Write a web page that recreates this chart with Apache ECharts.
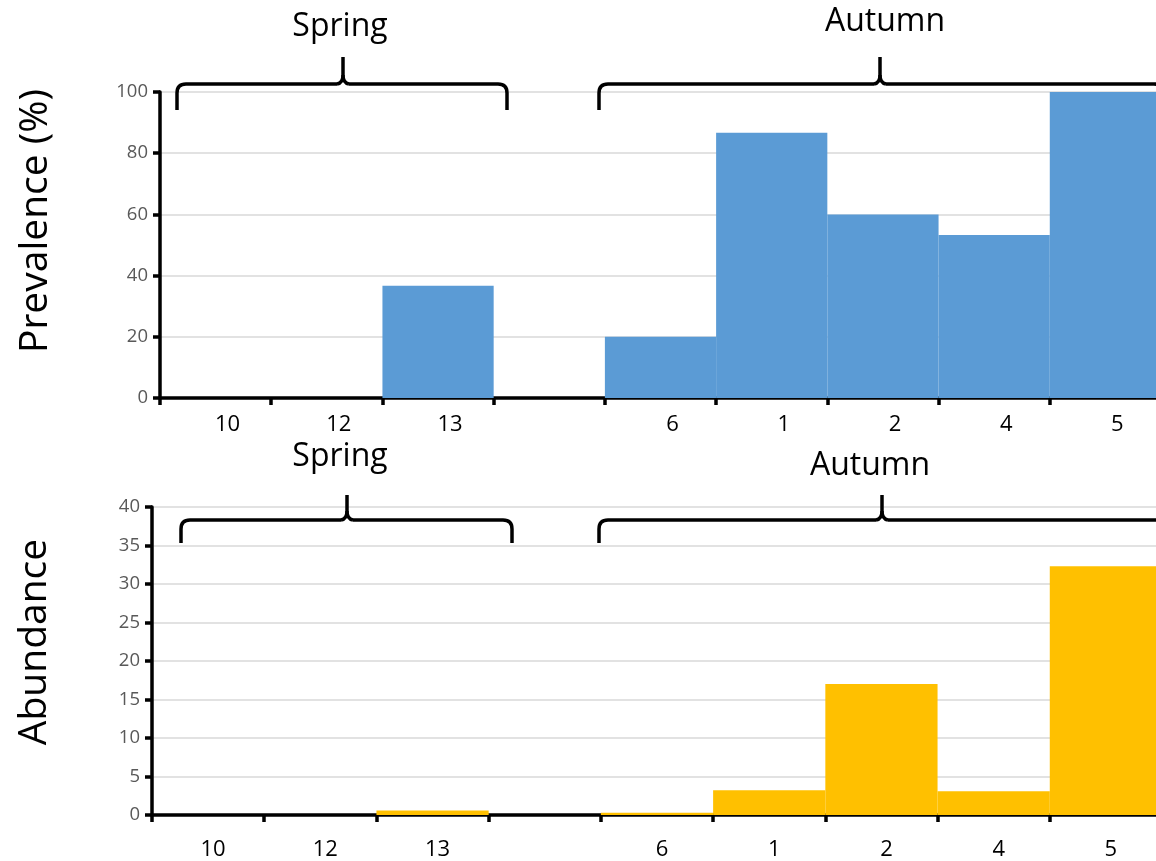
<!DOCTYPE html>
<html>
<head>
<meta charset="utf-8">
<script src="https://cdn.jsdelivr.net/npm/echarts@6/dist/echarts.min.js"></script>
<style>html,body{margin:0;padding:0;background:#fff}#c{width:1156px;height:861px}</style>
</head>
<body>
<div id="c"></div>
<script>
const categories = ['10', '12', '13', '', '6', '1', '2', '4', '5'];
const prevalence = [0, 0, 36.7, null, 20, 86.7, 60, 53.3, 100];
const abundance = [0, 0, 0.6, null, 0.3, 3.2, 17, 3.1, 32.3];
const prevTicks = { min: 0, max: 100, interval: 20 };
const abunTicks = { min: 0, max: 40, interval: 5 };
const groupLabels = ['Spring', 'Autumn'];

const FONT = 'Open Sans';
const chart = echarts.init(document.getElementById('c'));

const ST = { stroke: '#000', lineWidth: 3.5, fill: null };
function ln(a, b, c, d) { return { type: 'line', shape: { x1: a, y1: b, x2: c, y2: d }, style: ST, z: 100 }; }
function bz(a, b, c, d, cx, cy) { return { type: 'bezierCurve', shape: { x1: a, y1: b, x2: c, y2: d, cpx1: cx, cpy1: cy }, style: ST, z: 100 }; }
function brace(x1, x2, xm, yt, yb, ytop) {
  return { type: 'group', children: [
    ln(x1, yb, x1, yt + 9),
    bz(x1, yt + 9, x1 + 9, yt, x1, yt),
    ln(x1 + 9, yt, xm - 6, yt),
    bz(xm - 6, yt, xm, yt - 9, xm, yt - 1),
    ln(xm, yt - 9, xm, ytop),
    bz(xm, yt - 9, xm + 6, yt, xm, yt - 1),
    ln(xm + 6, yt, x2 - 9, yt),
    bz(x2 - 9, yt, x2, yt + 9, x2, yt),
    ln(x2, yt + 9, x2, yb)
  ] };
}
function txt(t, x, y, size, rot) {
  return { type: 'text', x: x, y: y, rotation: rot || 0, z: 100,
    style: { text: t, fontSize: size, fontFamily: FONT, fill: '#000', align: 'center', verticalAlign: 'middle' } };
}

function xAxis(grid, margin, padLeft) {
  return {
    gridIndex: grid,
    type: 'category',
    data: categories,
    axisLine: { lineStyle: { color: '#000', width: 3.5 } },
    axisTick: { show: true, length: 7, lineStyle: { color: '#000', width: 3.5 } },
    axisLabel: { color: '#000', fontSize: 22, fontFamily: FONT, margin: margin, padding: [0, 0, 0, padLeft] },
    splitLine: { show: false }
  };
}
const yAxisCommon = {
  type: 'value',
  axisLine: { show: true, lineStyle: { color: '#000', width: 3.5 } },
  axisTick: { show: true, length: 7, lineStyle: { color: '#000', width: 3.5 } },
  axisLabel: { color: '#595959', fontSize: 18.5, fontFamily: FONT, margin: 12 },
  splitLine: { show: true, lineStyle: { color: '#d9d9d9', width: 1.5 } }
};

chart.setOption({
  animation: false,
  backgroundColor: '#fff',
  grid: [
    { left: 160, top: 92, height: 306, width: 1001, outerBoundsMode: 'none', containLabel: false },
    { left: 152, top: 507, height: 308, width: 1010, outerBoundsMode: 'none', containLabel: false }
  ],
  xAxis: [xAxis(0, 16, 24), xAxis(1, 24, 10)],
  yAxis: [
    Object.assign({ gridIndex: 0 }, yAxisCommon, prevTicks),
    Object.assign({ gridIndex: 1 }, yAxisCommon, abunTicks)
  ],
  series: [
    { type: 'bar', xAxisIndex: 0, yAxisIndex: 0, data: prevalence, barCategoryGap: '0%',
      itemStyle: { color: '#5B9BD5' } },
    { type: 'bar', xAxisIndex: 1, yAxisIndex: 1, data: abundance, barCategoryGap: '0%',
      itemStyle: { color: '#FFC000' } }
  ],
  graphic: [
    brace(177, 507, 343, 84, 110, 57),
    brace(599, 1163, 880, 84, 110, 57),
    brace(181, 512, 347, 520, 543, 495),
    brace(599, 1166, 882, 520, 543, 495),
    txt(groupLabels[0], 340, 27, 32),
    txt(groupLabels[1], 885, 22, 32),
    txt(groupLabels[0], 340, 457, 32),
    txt(groupLabels[1], 870, 466, 32),
    txt('Prevalence (%)', 36, 221, 39, Math.PI / 2),
    txt('Abundance', 35, 642, 39, Math.PI / 2)
  ]
});
</script>
</body>
</html>
